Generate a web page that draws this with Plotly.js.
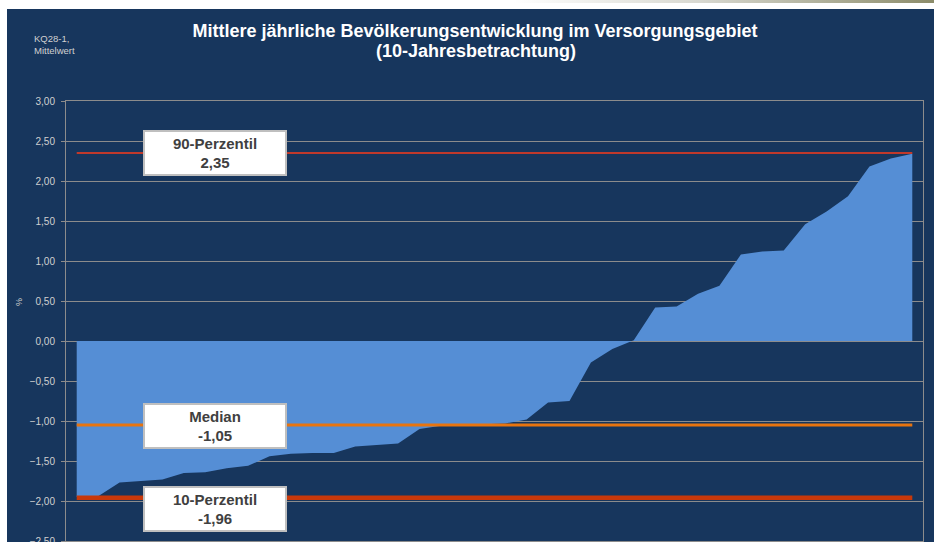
<!DOCTYPE html>
<html>
<head>
<meta charset="utf-8">
<script src="https://cdn.plot.ly/plotly-3.0.1.min.js"></script>
<style>
  html, body { margin:0; padding:0; background:#ffffff; width:934px; height:542px; overflow:hidden; }
  #topstrip { position:absolute; left:0; top:0; width:934px; height:3px;
    background:linear-gradient(to right, #ffffff 0%, #ffffff 55%, #d8d8d0 75%, #8c8c6a 100%); }
  #chart { position:absolute; left:7px; top:9px; width:927px; height:533px; }
</style>
</head>
<body>
<div id="topstrip"></div>
<div id="chart"></div>
<script>
// Regions sorted by mean annual population development (%)
const regions = Array.from({length: 40}, (_, i) => 'R' + (i + 1));
const entwicklung = [
  -1.95, -1.94, -1.77, -1.75, -1.73, -1.65, -1.64, -1.59, -1.56, -1.44,
  -1.41, -1.40, -1.40, -1.32, -1.30, -1.28, -1.10, -1.06, -1.05, -1.04,
  -1.03, -0.98, -0.77, -0.75, -0.27, -0.10, 0.01, 0.42, 0.43, 0.59,
  0.69, 1.08, 1.12, 1.13, 1.46, 1.62, 1.81, 2.18, 2.28, 2.34
];
const perzentil90 = 2.35;
const median = -1.05;
const perzentil10 = -1.96;
const refLabels = ['90-Perzentil', 'Median', '10-Perzentil'];
const refValues = [perzentil90, median, perzentil10];
const yTicks = [-2.5, -2, -1.5, -1, -0.5, 0, 0.5, 1, 1.5, 2, 2.5, 3];
const titleLine1 = 'Mittlere jährliche Bevölkerungsentwicklung im Versorgungsgebiet';
const titleLine2 = '(10-Jahresbetrachtung)';
const cornerText = 'KQ28-1,<br>Mittelwert';
const yUnit = '%';

const xIdx = regions.map((_, i) => i);
const fmt = v => v.toFixed(2).replace('.', ',');
const FONT = 'Liberation Sans, Arial, sans-serif';

const traces = [
  { x: xIdx, y: entwicklung, type: 'scatter', mode: 'lines', fill: 'tozeroy',
    fillcolor: '#558ed5', line: { width: 0, color: '#558ed5' }, hoverinfo: 'y' },
  { x: xIdx, y: xIdx.map(() => perzentil90), type: 'scatter', mode: 'lines',
    line: { color: '#c0392b', width: 2 }, hoverinfo: 'y' },
  { x: xIdx, y: xIdx.map(() => median), type: 'scatter', mode: 'lines',
    line: { color: '#e8740f', width: 3 }, hoverinfo: 'y' },
  { x: xIdx, y: xIdx.map(() => perzentil10), type: 'scatter', mode: 'lines',
    line: { color: '#c8380a', width: 4.5 }, hoverinfo: 'y' }
];

const boxY = [0.882, 0.261, 0.073];
const annotations = refLabels.map((lab, i) => ({
  xref: 'paper', yref: 'paper', x: 0.1735, y: boxY[i], xanchor: 'center', yanchor: 'middle',
  text: '<b>' + lab + '<br>' + fmt(refValues[i]) + '</b>', showarrow: false,
  font: { family: FONT, size: 15, color: '#404040' },
  bgcolor: '#ffffff', bordercolor: '#bfbfbf', borderwidth: 2, borderpad: 0,
  width: 140, height: 42, align: 'center', valign: 'middle'
}));
annotations.push({
  xref: 'paper', yref: 'paper', x: (12 - 59) / 857, y: 1 - (293 - 92) / 440,
  text: yUnit, showarrow: false, textangle: -90, xanchor: 'center', yanchor: 'middle',
  font: { family: FONT, size: 9, color: '#d0d0d0' }
});
annotations.push({
  xref: 'paper', yref: 'paper', x: (25 - 59) / 857, y: 1 - (22 - 92) / 440,
  xanchor: 'left', yanchor: 'top', align: 'left', showarrow: false,
  text: cornerText,
  font: { family: FONT, size: 9.5, color: '#d0d0d0' }
});
annotations.push({
  xref: 'paper', yref: 'paper', x: 0.4784, y: 1 + (92 - 42) / 440,
  xanchor: 'center', yanchor: 'middle', showarrow: false,
  text: '<b>' + titleLine2 + '</b>',
  font: { family: FONT, size: 18, color: '#ffffff' }
});

const layout = {
  width: 927, height: 533,
  paper_bgcolor: '#17365d', plot_bgcolor: '#17365d',
  margin: { l: 59, r: 11, t: 92, b: 1, pad: 0 },
  separators: ',.',
  showlegend: false,
  title: {
    text: '<b>' + titleLine1 + '</b>',
    font: { family: FONT, size: 18, color: '#ffffff' },
    x: 0.5049, xanchor: 'center', y: 1 - 22 / 533, yanchor: 'middle'
  },
  xaxis: {
    range: [-0.5, 39.5], showticklabels: false, showgrid: false, zeroline: false,
    showline: true, mirror: true, linecolor: '#8c8c8c', linewidth: 1, ticks: '', automargin: false,
    fixedrange: true
  },
  yaxis: {
    range: [-2.5, 3.0], tickvals: yTicks, tickformat: '.2f',
    showgrid: true, gridcolor: '#8c8c8c', gridwidth: 1, zeroline: false,
    showline: true, mirror: true, linecolor: '#8c8c8c', linewidth: 1,
    ticks: 'outside', ticklen: 4, tickcolor: '#8c8c8c', ticklabelstandoff: 4,
    ticklabeloverflow: 'allow',
    tickfont: { family: FONT, size: 10, color: '#d0d0d0' },
    automargin: false, fixedrange: true
  },
  annotations: annotations
};

Plotly.newPlot('chart', traces, layout, { displayModeBar: false, staticPlot: true });
</script>
</body>
</html>
